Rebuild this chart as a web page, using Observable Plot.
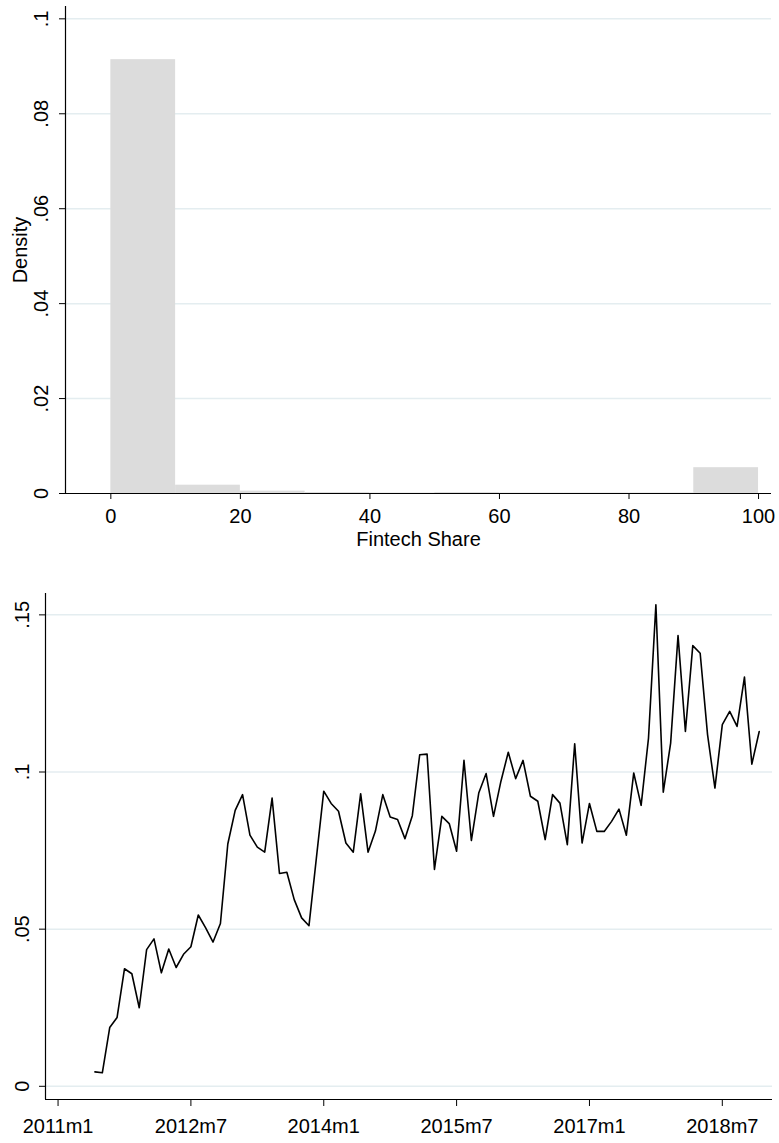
<!DOCTYPE html>
<html><head><meta charset="utf-8">
<script src="https://cdn.jsdelivr.net/npm/d3@7"></script>
<script src="https://cdn.jsdelivr.net/npm/@observablehq/plot@0.6"></script>
<style>
body{margin:0;background:#fff;}
svg{display:block;}
</style></head><body>
<div id="top"></div><div id="bottom"></div>
<script>
// ---- Histogram data ----
const binStarts = [0,10,20,30,40,50,60,70,80,90];
const binWidth = 10;
const densities = [0.0914,0.00175,0.0005,0.0002,0.0001,0.0002,0.0001,0.0001,0.0001,0.00544];
const histXTicks = [0,20,40,60,80,100];
const histYTicks = [0,0.02,0.04,0.06,0.08,0.1];
const histXLabel = "Fintech Share";
const histYLabel = "Density";

// ---- Time series data (monthly, starting 2011m6; month index 0 = 2011m1) ----
const startMonth = 5;
const shares = [
  0.0046,0.0043,0.0187,0.0219,0.0374,0.0358,0.0250,0.0435,0.0469,0.0361,
  0.0437,0.0378,0.0420,0.0444,0.0545,0.0504,0.0459,0.0518,0.0771,0.0878,
  0.0928,0.0799,0.0761,0.0745,0.0917,0.0677,0.0681,0.0594,0.0536,0.0511,
  0.0726,0.0939,0.0900,0.0875,0.0774,0.0745,0.0931,0.0745,0.0812,0.0928,
  0.0857,0.0849,0.0788,0.0861,0.1055,0.1057,0.0690,0.0859,0.0836,0.0748,
  0.1037,0.0782,0.0933,0.0995,0.0859,0.0970,0.1063,0.0979,0.1037,0.0923,
  0.0907,0.0785,0.0928,0.0901,0.0769,0.1090,0.0774,0.0900,0.0811,0.0811,
  0.0843,0.0882,0.0799,0.0997,0.0894,0.1108,0.1532,0.0936,0.1092,0.1434,
  0.1129,0.1402,0.1378,0.1119,0.0949,0.1151,0.1193,0.1145,0.1302,0.1025,
  0.1129
];
const timeTicks = [0,18,36,54,72,90];
const timeTickLabels = ["2011m1","2012m7","2014m1","2015m7","2017m1","2018m7"];
const shareTicks = [0,0.05,0.1,0.15];

const fmt = d => d === 0 ? "0" : String(d).replace(/^0\./, ".");
const font = "'Liberation Sans', Arial, Helvetica, sans-serif";
const gridColor = "#e4edf0";
const axisColor = "#000";

const histData = binStarts.map((b, i) => ({x1: b, x2: b + binWidth, density: densities[i]}));
const xDomTop = [-7, 102];
const yDomTop = [0, 0.1026];

const hist = Plot.plot({
  width: 779, height: 556,
  marginLeft: 65, marginRight: 8, marginTop: 6, marginBottom: 63,
  style: {fontFamily: font, fontSize: "20px", color: "#000", background: "#fff"},
  x: {domain: xDomTop},
  y: {domain: yDomTop},
  marks: [
    Plot.gridY(histYTicks.filter(d => d > 0), {stroke: gridColor, strokeOpacity: 1, strokeWidth: 1.5}),
    Plot.rectY(histData, {x1: "x1", x2: "x2", y: "density", fill: "#dcdcdc"}),
    Plot.ruleX([xDomTop[0]], {stroke: axisColor, strokeWidth: 1.2}),
    Plot.ruleY([0], {stroke: axisColor, strokeWidth: 1.2}),
    Plot.axisY(histYTicks, {tickFormat: fmt, tickRotate: -90, tickSize: 6, tickPadding: 12, fontSize: 20, stroke: axisColor, label: null}),
    Plot.axisX(histXTicks, {tickSize: 6, tickPadding: 9, fontSize: 20, stroke: axisColor, label: null}),
    Plot.text([histYLabel], {frameAnchor: "left", dx: -45, rotate: -90, textAnchor: "middle", lineAnchor: "middle", fontSize: 20}),
    Plot.text([histXLabel], {frameAnchor: "bottom", dy: 46, textAnchor: "middle", lineAnchor: "middle", fontSize: 20})
  ]
});
document.getElementById("top").appendChild(hist);

const series = shares.map((v, i) => ({t: startMonth + i, v}));
const xDomBot = [-1.7, 96.8];
const yDomBot = [-0.0042, 0.1568];

const lineChart = Plot.plot({
  width: 779, height: 583,
  marginLeft: 45, marginRight: 7, marginTop: 37, marginBottom: 40,
  style: {fontFamily: font, fontSize: "20px", color: "#000", background: "#fff"},
  x: {domain: xDomBot},
  y: {domain: yDomBot},
  marks: [
    Plot.gridY(shareTicks, {stroke: gridColor, strokeOpacity: 1, strokeWidth: 1.5}),
    Plot.line(series, {x: "t", y: "v", stroke: "#000", strokeWidth: 1.6}),
    Plot.ruleX([xDomBot[0]], {stroke: axisColor, strokeWidth: 1.2}),
    Plot.ruleY([yDomBot[0]], {stroke: axisColor, strokeWidth: 1.2}),
    Plot.axisY(shareTicks, {tickFormat: fmt, tickRotate: -90, tickSize: 6, tickPadding: 11, fontSize: 20, stroke: axisColor, label: null}),
    Plot.axisX(timeTicks, {tickFormat: d => timeTickLabels[timeTicks.indexOf(d)], tickSize: 7, tickPadding: 12, fontSize: 20, stroke: axisColor, label: null})
  ]
});
document.getElementById("bottom").appendChild(lineChart);
</script>
</body></html>
